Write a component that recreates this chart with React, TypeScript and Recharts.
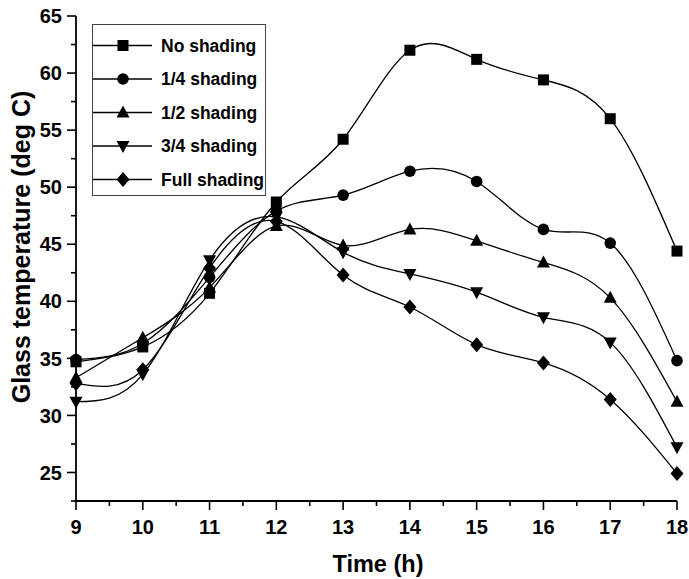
import React from 'react';
import { LineChart, Line, XAxis, YAxis, Legend } from 'recharts';

const hours = [9, 10, 11, 12, 13, 14, 15, 16, 17, 18];
const noShading = [34.7, 36.0, 40.7, 48.7, 54.2, 62.0, 61.2, 59.4, 56.0, 44.4];
const quarterShading = [34.9, 36.3, 42.1, 47.9, 49.3, 51.4, 50.5, 46.3, 45.1, 34.8];
const halfShading = [33.3, 36.8, 41.2, 46.6, 44.9, 46.3, 45.3, 43.4, 40.3, 31.2];
const threeQuarterShading = [31.2, 33.6, 43.6, 47.4, 44.3, 42.4, 40.8, 38.6, 36.4, 27.2];
const fullShading = [32.8, 34.0, 42.9, 47.0, 42.3, 39.5, 36.2, 34.6, 31.4, 24.9];

const seriesNames = ['No shading', '1/4 shading', '1/2 shading', '3/4 shading', 'Full shading'];
const seriesShapes = ['square', 'circle', 'triangle', 'invtriangle', 'diamond'];
const seriesValues = [noShading, quarterShading, halfShading, threeQuarterShading, fullShading];

const xTicks = [9, 9.5, 10, 10.5, 11, 11.5, 12, 12.5, 13, 13.5, 14, 14.5, 15, 15.5, 16, 16.5, 17, 17.5, 18];
const yTicks = [22.5, 25, 27.5, 30, 32.5, 35, 37.5, 40, 42.5, 45, 47.5, 50, 52.5, 55, 57.5, 60, 62.5, 65];

const data = hours.map((h, i) => {
  const row: any = { hour: h };
  seriesValues.forEach((vals, k) => {
    row['s' + k] = vals[i];
  });
  return row;
});

const FONT = '"Liberation Sans", Arial, sans-serif';

function Marker({ shape, cx, cy }: { shape: string; cx: number; cy: number }) {
  if (shape === 'square') {
    return <rect x={cx - 5.5} y={cy - 5.5} width={11} height={11} fill="#000" />;
  }
  if (shape === 'circle') {
    return <circle cx={cx} cy={cy} r={5.8} fill="#000" />;
  }
  if (shape === 'triangle') {
    return <polygon points={`${cx},${cy - 7} ${cx - 6.5},${cy + 5} ${cx + 6.5},${cy + 5}`} fill="#000" />;
  }
  if (shape === 'invtriangle') {
    return <polygon points={`${cx},${cy + 7} ${cx - 6.5},${cy - 5} ${cx + 6.5},${cy - 5}`} fill="#000" />;
  }
  return <polygon points={`${cx},${cy - 7.5} ${cx + 6.5},${cy} ${cx},${cy + 7.5} ${cx - 6.5},${cy}`} fill="#000" />;
}

const makeDot = (shape: string) => (props: any) => {
  const { cx, cy, index } = props;
  if (cx == null || cy == null) return <g key={index} />;
  return <Marker key={index} shape={shape} cx={cx} cy={cy} />;
};

const YTick = (props: any) => {
  const { x, y, payload } = props;
  const v = payload.value;
  const major = Math.abs(v % 5) < 1e-6;
  return (
    <g>
      <line x1={x} x2={x - (major ? 9 : 5)} y1={y} y2={y} stroke="#000" strokeWidth={1.6} />
      {major && (
        <text x={x - 14} y={y} dy="0.36em" textAnchor="end" fontFamily={FONT} fontWeight="bold" fontSize={20} fill="#000">
          {v}
        </text>
      )}
    </g>
  );
};

const XTick = (props: any) => {
  const { x, y, payload } = props;
  const v = payload.value;
  const major = Math.abs(v % 1) < 1e-6;
  return (
    <g>
      <line x1={x} x2={x} y1={y} y2={y + (major ? 9 : 5)} stroke="#000" strokeWidth={1.6} />
      {major && (
        <text x={x} y={y + 33} textAnchor="middle" fontFamily={FONT} fontWeight="bold" fontSize={20} fill="#000">
          {v}
        </text>
      )}
    </g>
  );
};

const YTitle = () => (
  <text
    x={29.5}
    y={247}
    transform="rotate(-90 29.5 247)"
    textAnchor="middle"
    fontFamily={FONT}
    fontWeight="bold"
    fontSize={25}
    fill="#000"
  >
    Glass temperature (deg C)
  </text>
);

const XTitle = () => (
  <text x={378} y={572} textAnchor="middle" fontFamily={FONT} fontWeight="bold" fontSize={23.5} fill="#000">
    Time (h)
  </text>
);

const LegendBox = () => {
  const w = 173;
  const h = 171;
  return (
    <svg width={w + 2} height={h + 2} style={{ display: 'block' }}>
      <rect x={0.5} y={0.5} width={w} height={h} fill="#fff" stroke="#444" strokeWidth={1} />
      {seriesNames.map((name, i) => {
        const cy = 21.5 + i * 33.5;
        return (
          <g key={name}>
            <line x1={1} x2={60} y1={cy} y2={cy} stroke="#000" strokeWidth={1.3} />
            <Marker shape={seriesShapes[i]} cx={31} cy={cy} />
            <text x={69} y={cy} dy="0.36em" fontFamily={FONT} fontWeight="bold" fontSize={17.5} fill="#000">
              {name}
            </text>
          </g>
        );
      })}
    </svg>
  );
};

export default function App() {
  return (
    <div style={{ position: 'absolute', left: 0, top: 0, background: '#fff' }}>
      <LineChart width={689} height={579} data={data} margin={{ top: 16, right: 12, left: 0, bottom: 0 }}>
        <XAxis
          dataKey="hour"
          type="number"
          domain={[9, 18]}
          ticks={xTicks}
          interval={0}
          tickSize={0}
          tickMargin={0}
          tickLine={false}
          tick={<XTick />}
          height={78}
          axisLine={{ stroke: '#000', strokeWidth: 1.8 }}
          label={<XTitle />}
        />
        <XAxis
          xAxisId="top"
          orientation="top"
          dataKey="hour"
          type="number"
          domain={[9, 18]}
          tick={false}
          tickLine={false}
          height={0}
          axisLine={{ stroke: '#000', strokeWidth: 1.8 }}
        />
        <YAxis
          type="number"
          domain={[22.5, 65]}
          ticks={yTicks}
          interval={0}
          tickSize={0}
          tickMargin={0}
          tickLine={false}
          tick={<YTick />}
          width={76}
          axisLine={{ stroke: '#000', strokeWidth: 1.8 }}
          label={<YTitle />}
        />
        <YAxis
          yAxisId="right"
          orientation="right"
          type="number"
          domain={[22.5, 65]}
          tick={false}
          tickLine={false}
          width={0}
          axisLine={{ stroke: '#000', strokeWidth: 1.8 }}
        />
        {seriesNames.map((name, k) => (
          <Line
            key={name}
            name={name}
            dataKey={'s' + k}
            type="natural"
            stroke="#000"
            strokeWidth={1.3}
            dot={makeDot(seriesShapes[k])}
            activeDot={false}
            isAnimationActive={false}
          />
        ))}
        <Legend
          layout="vertical"
          align="center"
          verticalAlign="middle"
          content={<LegendBox />}
          wrapperStyle={{ position: 'absolute', left: 92, top: 24, width: 175, height: 173 }}
        />
      </LineChart>
    </div>
  );
}
